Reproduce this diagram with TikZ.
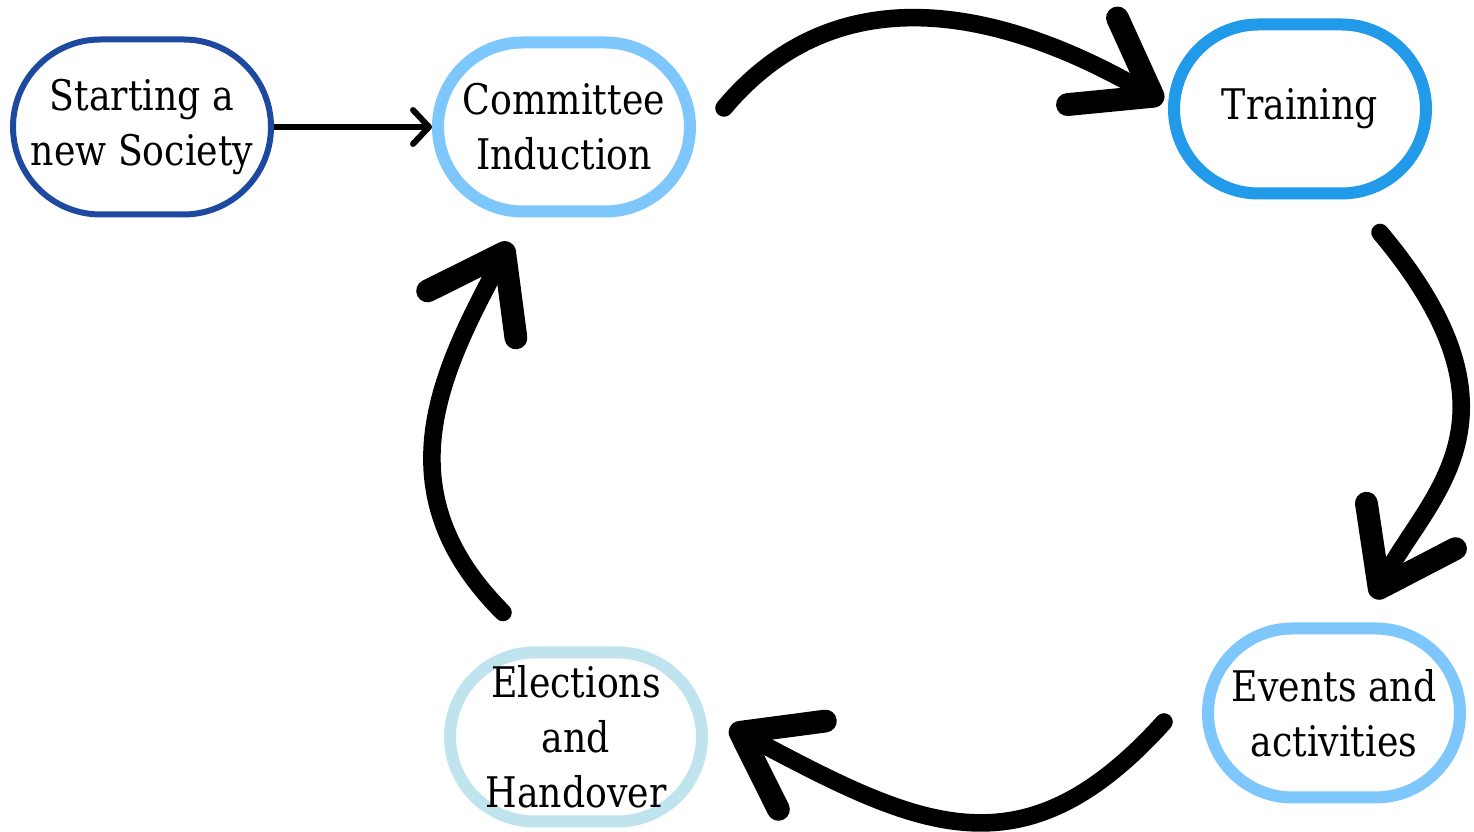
\documentclass[tikz,border=0pt]{standalone}
\usepackage{fontspec}
\setmainfont[FakeStretch=0.86]{DejaVu Serif}
\usetikzlibrary{arrows.meta,shapes.misc}
\definecolor{bleufonce}{HTML}{1D4AA0}
\definecolor{bleuclair}{HTML}{7DC7FD}
\definecolor{bleuvif}{HTML}{209AE9}
\definecolor{bleupale}{HTML}{BFE4EE}
\tikzset{
  etape/.style={rounded rectangle,draw=#1,line width=0.12cm,fill=white,
    minimum width=2.52cm,minimum height=1.69cm,inner sep=0pt},
  texte/.style={align=center,font=\fontsize{12}{15.6}\selectfont},
  pinceau/.style={line width=5pt,line cap=round,
    -{Straight Barb[round,length=7mm,width=10mm,line width=6.5pt]}}
}
\begin{document}
\begin{tikzpicture} % cycle de vie d'une association
\useasboundingbox (0,0) rectangle (14.74,8.32);
\node[etape=bleufonce,line width=0.06cm,minimum width=2.58cm,minimum height=1.75cm,
  label={[texte]center:Starting a\\new Society}] (depart) at (1.42,7.05) {};
\node[etape=bleuclair,label={[texte]center:Committee\\Induction}] (comite) at (5.64,7.05) {};
\node[etape=bleuvif,label={[texte]center:Training}] (formation) at (13.00,7.23) {};
\node[etape=bleuclair,label={[texte]center:Events and\\activities}] (evenements) at (13.34,1.19) {};
\node[etape=bleupale,label={[texte]center:Elections\\and\\Handover}] (elections) at (5.76,0.95) {};

\draw [line width=1.7pt,-{Straight Barb[round,length=1.6mm,width=3.4mm]}] (depart.east) -- (comite.west);

\draw [pinceau] ([xshift=2.8mm,yshift=1.9mm]comite.east) to[out=50,in=150,looseness=1.05] ([xshift=-0.5mm,yshift=0.7mm]formation.west);
\draw [pinceau] ([xshift=8mm,yshift=-3.3mm]formation.south) to[out=-50,in=63,out looseness=1.7,in looseness=0.8] ([xshift=4mm,yshift=2.4mm]evenements.north);
\draw [pinceau] ([xshift=-3.8mm,yshift=-0.9mm]evenements.west) to[out=228,in=-28,looseness=1.25] ([xshift=2.2mm,yshift=1mm]elections.east);
\draw [pinceau] ([xshift=-7.3mm,yshift=3.4mm]elections.north) to[out=135,in=-118,out looseness=1.2,in looseness=1] ([xshift=-5.4mm,yshift=-2.5mm]comite.south);
\end{tikzpicture}
\end{document}
